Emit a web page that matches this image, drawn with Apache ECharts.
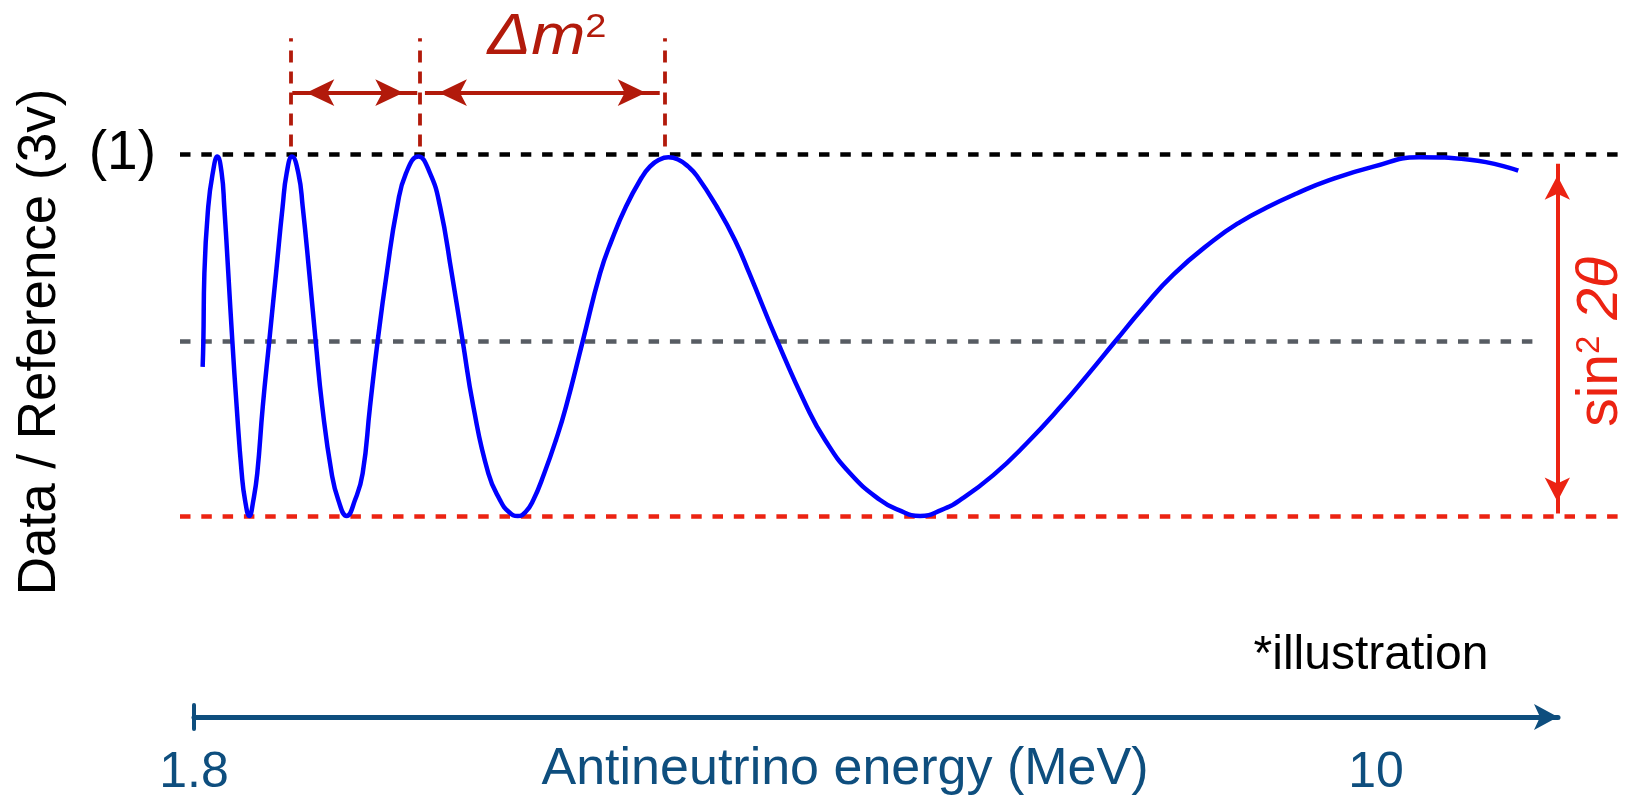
<!DOCTYPE html>
<html>
<head>
<meta charset="utf-8">
<script src="https://cdn.jsdelivr.net/npm/echarts@6/dist/echarts.min.js"></script>
<style>html,body{margin:0;padding:0;background:#fff}#c{width:1627px;height:796px}</style>
</head>
<body>
<div id="c"></div>
<script>
// ---------------- data ----------------
const energyTicks = [1.8, 10];                 // MeV tick labels on the energy axis
const ratioTicks = [1];                        // reference level on the ratio axis
const ratioTickLabels = ['(1)'];
const curveEnergy = [
  1.860, 1.865, 1.872, 1.899, 1.930, 1.962, 1.992, 2.010, 2.038, 2.066, 2.096, 2.131, 2.154, 2.184,
  2.212, 2.239, 2.277, 2.322, 2.369, 2.415, 2.443, 2.480, 2.524, 2.554, 2.600, 2.644, 2.690, 2.755,
  2.801, 2.859, 2.917, 2.970, 3.021, 3.074, 3.137, 3.210, 3.271, 3.356, 3.437, 3.507, 3.588, 3.664,
  3.738, 3.842, 3.923, 3.985, 4.046, 4.100, 4.154, 4.230, 4.311, 4.381, 4.497, 4.617, 4.698, 4.797,
  4.906, 4.963, 5.026, 5.091, 5.158, 5.229, 5.288, 5.426, 5.553, 5.653, 5.847, 6.051, 6.178, 6.351,
  6.560, 6.686, 6.837, 6.987, 7.114, 7.345, 7.577, 7.814, 8.004, 8.190, 8.386, 8.594, 8.872, 9.057,
  9.242, 9.450, 9.658, 9.982, 10.300, 10.652, 10.987
];
const curveRatio = [
  0.412, 0.483, 0.670, 0.855, 0.947, 0.993, 0.947, 0.855, 0.670, 0.483, 0.302, 0.118, 0.044, 0.000,
  0.044, 0.118, 0.302, 0.483, 0.670, 0.855, 0.947, 0.993, 0.947, 0.855, 0.670, 0.483, 0.302, 0.118,
  0.044, 0.000, 0.044, 0.118, 0.302, 0.483, 0.670, 0.855, 0.947, 0.993, 0.947, 0.855, 0.670, 0.483,
  0.302, 0.118, 0.044, 0.011, 0.000, 0.011, 0.044, 0.118, 0.210, 0.302, 0.483, 0.670, 0.762, 0.855,
  0.935, 0.965, 0.984, 0.991, 0.985, 0.965, 0.940, 0.855, 0.762, 0.670, 0.483, 0.302, 0.210, 0.118,
  0.044, 0.017, 0.000, 0.017, 0.044, 0.113, 0.201, 0.303, 0.392, 0.482, 0.576, 0.667, 0.761, 0.812,
  0.852, 0.891, 0.925, 0.965, 0.991, 0.984, 0.954
];
const levelTop = 1;          // no-oscillation reference (1)
const levelMid = 0.483;      // mean level
const levelBottom = 0;       // maximal deficit (1 - sin^2 2θ)
const peakEnergies = [2.471, 3.363, 5.067];          // dashed markers at oscillation maxima
const dm2Spans = [[2.482, 3.349], [3.402, 5.031]];   // Δm² double arrows between maxima
const ampArrow = {energy: 11.258, from: 0.007, to: 0.973}; // sin²2θ amplitude arrow

// ---------------- layout ----------------
const FONT = '"Liberation Sans", Arial, Helvetica, sans-serif';
const BLUE = '#0e4e7e', DARKRED = '#b21a0b', RED = '#ec2312', GRAY = '#575c63';
const PX_A = 194, PX_B = 1376;      // pixel columns of the two energy ticks
const PY_1 = 154, PY_0 = 516;       // pixel rows of ratio 1 and 0
const kE = (energyTicks[1] - energyTicks[0]) / (PX_B - PX_A);
const eAt = px => energyTicks[0] + (px - PX_A) * kE;
const vAt = py => (PY_0 - py) / (PY_0 - PY_1);

const curve = curveEnergy.map((e, i) => [e, curveRatio[i]]);
const dash = [10.5, 10.8];

function arrowEnd(coord, w, h) {
  return {coord: coord, symbol: 'arrow', symbolSize: [w, h], symbolOffset: [0, h / 2]};
}

const chart = echarts.init(document.getElementById('c'), null, {renderer: 'canvas', width: 1627, height: 796});
chart.setOption({
  backgroundColor: '#fff',
  animation: false,
  grid: [
    {left: 180, right: 0, top: 0, height: 560, containLabel: false, outerBoundsMode: 'none'},
    {left: PX_A, width: 1558 - PX_A, top: 705, height: 24, containLabel: false, outerBoundsMode: 'none'}
  ],
  xAxis: [
    {gridIndex: 0, type: 'value', min: eAt(180), max: eAt(1627), show: false, splitLine: {show: false}},
    {gridIndex: 1, type: 'value', min: energyTicks[0], max: eAt(1558),
      axisLine: {show: true, onZero: true, symbol: ['none', 'arrow'], symbolSize: [19.5, 24],
        lineStyle: {color: BLUE, width: 5}},
      axisTick: {show: false}, splitLine: {show: false}, minorTick: {show: false},
      axisLabel: {customValues: energyTicks, fontSize: 50, color: BLUE, fontFamily: FONT, margin: 19,
        formatter: v => String(v)},
      name: 'Antineutrino energy (MeV)', nameLocation: 'middle', nameGap: 15, nameMoveOverlap: false,
      nameTextStyle: {fontSize: 52, color: BLUE, fontFamily: FONT, lineHeight: 52, padding: [0, 62, 0, 0]}
    }
  ],
  yAxis: [
    {gridIndex: 0, type: 'value', min: vAt(560), max: vAt(0),
      axisLine: {show: false}, axisTick: {show: false}, splitLine: {show: false},
      axisLabel: {customValues: ratioTicks, fontSize: 55, color: '#000', fontFamily: FONT, margin: 24,
        padding: [12, 0, 0, 0], formatter: v => ratioTickLabels[ratioTicks.indexOf(v)] || ''},
      name: 'Data / Reference (3v)', nameLocation: 'middle', nameGap: 113, nameRotate: 90, nameMoveOverlap: false,
      nameTextStyle: {fontSize: 53, color: '#000', fontFamily: FONT, lineHeight: 53, padding: [0, 124, 0, 0]}
    },
    {gridIndex: 1, type: 'value', min: -1, max: 1,
      axisLine: {show: true, onZero: false, lineStyle: {color: BLUE, width: 4}},
      axisTick: {show: false}, axisLabel: {show: false}, splitLine: {show: false}}
  ],
  series: [
    {
      type: 'line', xAxisIndex: 0, yAxisIndex: 0, data: curve, smooth: 0.5, showSymbol: false,
      silent: true, z: 5, lineStyle: {color: '#0000ff', width: 4.5},
      markLine: {
        silent: true, symbol: ['none', 'none'], label: {show: false}, emphasis: {disabled: true},
        lineStyle: {type: dash, width: 4.5},
        data: [
          {yAxis: levelTop, lineStyle: {color: '#000', type: dash, width: 4.5}},
          [{coord: [eAt(180), levelMid], lineStyle: {color: GRAY, type: dash, width: 4.5}},
           {coord: [eAt(1535), levelMid], lineStyle: {color: GRAY, type: dash, width: 4.5}}],
          {yAxis: levelBottom, lineStyle: {color: RED, type: dash, width: 4.5}}
        ]
      }
    },
    {
      type: 'line', xAxisIndex: 0, yAxisIndex: 0, data: [], silent: true, z: 3,
      markLine: {
        silent: true, symbol: ['none', 'none'], label: {show: false}, emphasis: {disabled: true},
        lineStyle: {color: DARKRED, width: 3.8, type: [12, 9]},
        data: peakEnergies.map(e => [{coord: [e, vAt(146.4)]}, {coord: [e, vAt(38.3)]}])
      }
    },
    {
      type: 'line', xAxisIndex: 0, yAxisIndex: 0, data: [], silent: true, z: 4,
      markLine: {
        silent: true, symbol: ['arrow', 'arrow'], symbolSize: [20, 28], label: {show: false},
        emphasis: {disabled: true}, itemStyle: {color: DARKRED},
        lineStyle: {color: DARKRED, width: 3.8, type: 'solid'},
        data: dm2Spans.map(s => [arrowEnd([s[0], vAt(92.7)], 20, 28), arrowEnd([s[1], vAt(92.7)], 20, 28)])
      }
    },
    {
      type: 'line', xAxisIndex: 0, yAxisIndex: 0, data: [], silent: true, z: 4,
      markLine: {
        silent: true, symbol: ['arrow', 'arrow'], symbolSize: [19, 24], label: {show: false},
        emphasis: {disabled: true}, itemStyle: {color: RED},
        lineStyle: {color: RED, width: 4, type: 'solid'},
        data: [[arrowEnd([ampArrow.energy, ampArrow.from], 19, 24), arrowEnd([ampArrow.energy, ampArrow.to], 19, 24)]]
      }
    }
  ],
  graphic: [
    {type: 'text', x: 547, y: 38, scaleX: 1.12, silent: true,
      style: {text: '{a|Δm}{b|2}', align: 'center', verticalAlign: 'middle',
        rich: {a: {fontSize: 58, fontStyle: 'italic', fontFamily: FONT, fill: DARKRED},
               b: {fontSize: 34, fontFamily: FONT, fill: DARKRED, padding: [0, 0, 20, 0]}}}},
    {type: 'text', x: 1601, y: 342, rotation: Math.PI / 2, silent: true,
      style: {text: '{a|sin}{b|2}{a| }{c|2θ}', align: 'center', verticalAlign: 'middle',
        rich: {a: {fontSize: 57, fontFamily: FONT, fill: RED},
               b: {fontSize: 33, fontFamily: FONT, fill: RED, padding: [0, 0, 22, 0]},
               c: {fontSize: 57, fontStyle: 'italic', fontFamily: FONT, fill: RED}}}},
    {type: 'text', x: 1371, y: 656, silent: true,
      style: {text: '*illustration', fontSize: 48, fontFamily: FONT, fill: '#000',
        align: 'center', verticalAlign: 'middle'}}
  ]
});
</script>
</body>
</html>
